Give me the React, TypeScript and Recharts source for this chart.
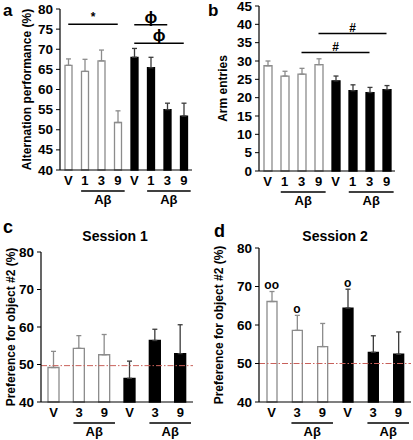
import React from 'react';
import { BarChart, Bar, XAxis, YAxis, ErrorBar, Cell, ReferenceLine, ReferenceDot } from 'recharts';

// ---------- data ----------
// Panel a & b: 8 groups (saline-treated: V,1,3,9 ; drug-treated: V,1,3,9)
const abKeys = ['salV', 'sal1', 'sal3', 'sal9', 'drgV', 'drg1', 'drg3', 'drg9'];
const abLabels = ['V', '1', '3', '9', 'V', '1', '3', '9'];
const abTreatment = ['white', 'white', 'white', 'white', 'black', 'black', 'black', 'black'];
const abAbetaGroups = [[1, 2, 3], [5, 6, 7]];

const aMeans = [66, 64.5, 67.1, 51.8, 68, 65.4, 55, 53.4];
const aErrors = [1.6, 3.0, 2.7, 2.9, 2.2, 2.6, 1.6, 3.2];
const aSig = [
  { from: 'salV', to: 'sal9', y: 76.2, text: '*' },
  { from: 'drgV', to: 'drg3', y: 76.1, text: 'ϕ' },
  { from: 'drgV', to: 'drg9', y: 71.5, text: 'ϕ' },
];
const aTicks = [40, 45, 50, 55, 60, 65, 70, 75, 80];

const bMeans = [28.7, 25.9, 26.4, 29, 24.6, 21.9, 21.4, 22.2];
const bErrors = [1.3, 1.3, 1.6, 1.6, 1.3, 1.6, 1.4, 1.1];
const bSig = [
  { from: 'sal9', to: 'drg9', y: 37.5, text: '#' },
  { from: 'sal3', to: 'drg3', y: 32.3, text: '#' },
];
const bTicks = [0, 5, 10, 15, 20, 25, 30, 35, 40, 45];

// Panel c & d: 6 groups
const cdKeys = ['salV', 'sal3', 'sal9', 'drgV', 'drg3', 'drg9'];
const cdLabels = ['V', '3', '9', 'V', '3', '9'];
const cdTreatment = ['white', 'white', 'white', 'black', 'black', 'black'];
const cdAbetaGroups = [[1, 2], [4, 5]];
const cdTicks = [40, 50, 60, 70, 80];

const cMeans = [49.2, 54.3, 52.6, 46.3, 56.4, 52.9];
const cErrors = [4.3, 3.4, 5.4, 4.6, 3.0, 7.7];
const cChance = 49.7;

const dMeans = [66.1, 58.6, 54.4, 64.4, 52.9, 52.4];
const dErrors = [2.6, 3.9, 6.0, 4.9, 4.3, 5.8];
const dMarks = ['oo', 'o', '', 'o', '', ''];
const dChance = 50;

// ---------- styles ----------
const FONT = '"Liberation Sans", Arial, sans-serif';
const fills: Record<string, string> = { white: '#ffffff', black: '#000000' };
const strokes: Record<string, string> = { white: '#8c8c8c', black: '#000000' };
const errColors: Record<string, string> = { white: '#8c8c8c', black: '#3a3a3a' };

function buildRows(keys: string[], means: number[], errs: number[], treat: string[]) {
  return keys.map((k, i) => ({
    key: k,
    mean: means[i],
    errWhite: treat[i] === 'white' ? [0, errs[i]] : undefined,
    errBlack: treat[i] === 'black' ? [0, errs[i]] : undefined,
  }));
}

function makeTick(labels: string[], groups: number[][], band: number) {
  return (props: any) => {
    const { x, y, index } = props;
    const els: any[] = [
      <text key="t" x={x} y={y + 15} textAnchor="middle" fontWeight="bold" fontSize={13} fill="#000" fontFamily={FONT}>
        {labels[index]}
      </text>,
    ];
    groups.forEach((g, gi) => {
      if (g[0] === index) {
        const x1 = x - 0.22 * band;
        const x2 = x + (g.length - 1) * band + 0.42 * band;
        els.push(<line key={'l' + gi} x1={x1} x2={x2} y1={y + 21} y2={y + 21} stroke="#000" strokeWidth={1.3} />);
        els.push(
          <text key={'a' + gi} x={(x1 + x2) / 2} y={y + 34} textAnchor="middle" fontWeight="bold" fontSize={13} fill="#000" fontFamily={FONT}>
            Aβ
          </text>
        );
      }
    });
    return <g>{els}</g>;
  };
}

function YTick(props: any) {
  const { x, y, payload } = props;
  return (
    <text x={x} y={y} dy={4.6} textAnchor="end" fontWeight="bold" fontSize={13.5} fill="#000" fontFamily={FONT}>
      {payload.value}
    </text>
  );
}

type PanelProps = {
  left: number; top: number; width: number; height: number;
  margin: { top: number; right: number; bottom: number; left: number };
  yWidth: number; yLabel: string; yLabelDx: number; yLabelSize: number;
  domain: [number, number]; ticks: number[];
  keys: string[]; labels: string[]; means: number[]; errs: number[]; treat: string[];
  groups: number[][]; barSize: number;
  sig?: { from: string; to: string; y: number; text: string }[];
  chance?: number;
  marks?: string[];
};

function Panel(p: PanelProps) {
  const rows = buildRows(p.keys, p.means, p.errs, p.treat);
  const plotW = p.width - p.margin.left - p.margin.right - p.yWidth;
  const band = plotW / p.keys.length;
  return (
    <div style={{ position: 'absolute', left: p.left, top: p.top }}>
      <BarChart
        width={p.width}
        height={p.height}
        data={rows}
        margin={p.margin}
        barSize={p.barSize}
        style={{ fontFamily: FONT }}
      >
        <XAxis
          dataKey="key"
          axisLine={{ stroke: '#000', strokeWidth: 1.2 }}
          tickLine={false}
          tickSize={0}
          tickMargin={0}
          height={38}
          interval={0}
          tick={makeTick(p.labels, p.groups, band)}
        />
        <XAxis xAxisId="top" dataKey="key" orientation="top" height={0} tick={false} tickLine={false} axisLine={{ stroke: '#000', strokeWidth: 1.2 }} />
        <YAxis
          domain={p.domain}
          ticks={p.ticks}
          interval={0}
          width={p.yWidth}
          axisLine={{ stroke: '#000', strokeWidth: 1.2 }}
          tickLine={{ stroke: '#000' }}
          tickSize={4}
          tickMargin={3}
          tick={<YTick />}
          label={{
            value: p.yLabel,
            angle: -90,
            position: 'center',
            dx: p.yLabelDx,
            style: { fontSize: p.yLabelSize, fontWeight: 'bold', fill: '#000', fontFamily: FONT, textAnchor: 'middle' },
          }}
        />
        <YAxis yAxisId="right" orientation="right" domain={p.domain} width={0} tick={false} tickLine={false} axisLine={{ stroke: '#000', strokeWidth: 1.2 }} />
        <Bar dataKey="mean" isAnimationActive={false} strokeWidth={1.3}>
          {rows.map((r, i) => (
            <Cell key={r.key} fill={fills[p.treat[i]]} stroke={strokes[p.treat[i]]} />
          ))}
          <ErrorBar dataKey="errWhite" direction="y" width={2.5} stroke={errColors.white} strokeWidth={1.3} isAnimationActive={false} />
          <ErrorBar dataKey="errBlack" direction="y" width={2.5} stroke={errColors.black} strokeWidth={1.3} isAnimationActive={false} />
        </Bar>
        {p.chance !== undefined && (
          <ReferenceLine y={p.chance} stroke="#c8605a" strokeWidth={1} strokeDasharray="6 2 1.5 2" />
        )}
        {(p.sig || []).map((s, i) => (
          <ReferenceLine
            key={'sig' + i}
            segment={[{ x: s.from, y: s.y }, { x: s.to, y: s.y }]}
            stroke="#000"
            strokeWidth={1.6}
            label={{
              value: s.text,
              position: 'top',
              offset: s.text === '*' ? 3 : 2,
              style: { fontSize: s.text === 'ϕ' ? 17 : 12, fill: '#000', fontFamily: FONT, fontWeight: 'bold' },
            }}
          />
        ))}
        {(p.marks || []).map((m, i) =>
          m ? (
            <ReferenceDot
              key={'m' + i}
              x={p.keys[i]}
              y={p.means[i] + p.errs[i] + 1.7}
              r={0}
              fill="none"
              stroke="none"
              label={{ value: m, position: 'center', style: { fontSize: 12, fill: '#000', fontFamily: FONT, fontWeight: 'bold' } }}
            />
          ) : null
        )}
      </BarChart>
    </div>
  );
}

export default function App() {
  return (
    <div style={{ position: 'absolute', left: 0, top: 0, width: 413, height: 440, background: '#fff', fontFamily: FONT, overflow: 'hidden' }}>
      <Panel
        left={0} top={0} width={205} height={210}
        margin={{ top: 9, right: 13, bottom: 2, left: 0 }}
        yWidth={60} yLabel="Alternation performance (%)" yLabelDx={-3} yLabelSize={12}
        domain={[40, 80]} ticks={aTicks}
        keys={abKeys} labels={abLabels} means={aMeans} errs={aErrors} treat={abTreatment}
        groups={abAbetaGroups} barSize={7} sig={aSig}
      />
      <Panel
        left={205} top={0} width={208} height={210}
        margin={{ top: 6, right: 18, bottom: 1, left: 0 }}
        yWidth={54} yLabel="Arm entries" yLabelDx={-9} yLabelSize={12}
        domain={[0, 45]} ticks={bTicks}
        keys={abKeys} labels={abLabels} means={bMeans} errs={bErrors} treat={abTreatment}
        groups={abAbetaGroups} barSize={8} sig={bSig}
      />
      <Panel
        left={0} top={210} width={205} height={230}
        margin={{ top: 42, right: 12, bottom: 0, left: 0 }}
        yWidth={41} yLabel="Preference for object #2 (%)" yLabelDx={-10} yLabelSize={12}
        domain={[40, 80]} ticks={cdTicks}
        keys={cdKeys} labels={cdLabels} means={cMeans} errs={cErrors} treat={cdTreatment}
        groups={cdAbetaGroups} barSize={11} chance={cChance}
      />
      <Panel
        left={205} top={210} width={208} height={230}
        margin={{ top: 38, right: 2, bottom: 0, left: 0 }}
        yWidth={54} yLabel="Preference for object #2 (%)" yLabelDx={-13} yLabelSize={12}
        domain={[40, 80]} ticks={cdTicks}
        keys={cdKeys} labels={cdLabels} means={dMeans} errs={dErrors} treat={cdTreatment}
        groups={cdAbetaGroups} barSize={10} chance={dChance} marks={dMarks}
      />
      <svg width={413} height={440} style={{ position: 'absolute', left: 0, top: 0, pointerEvents: 'none' }}>
        <g fontFamily={FONT} fontWeight="bold" fill="#000">
          <text x={3} y={16} fontSize={17}>a</text>
          <text x={208} y={16} fontSize={17}>b</text>
          <text x={3} y={233} fontSize={18}>c</text>
          <text x={214} y={237} fontSize={18}>d</text>
          <text x={115} y={241} fontSize={14} textAnchor="middle">Session 1</text>
          <text x={335} y={241} fontSize={14} textAnchor="middle">Session 2</text>
        </g>
      </svg>
    </div>
  );
}
